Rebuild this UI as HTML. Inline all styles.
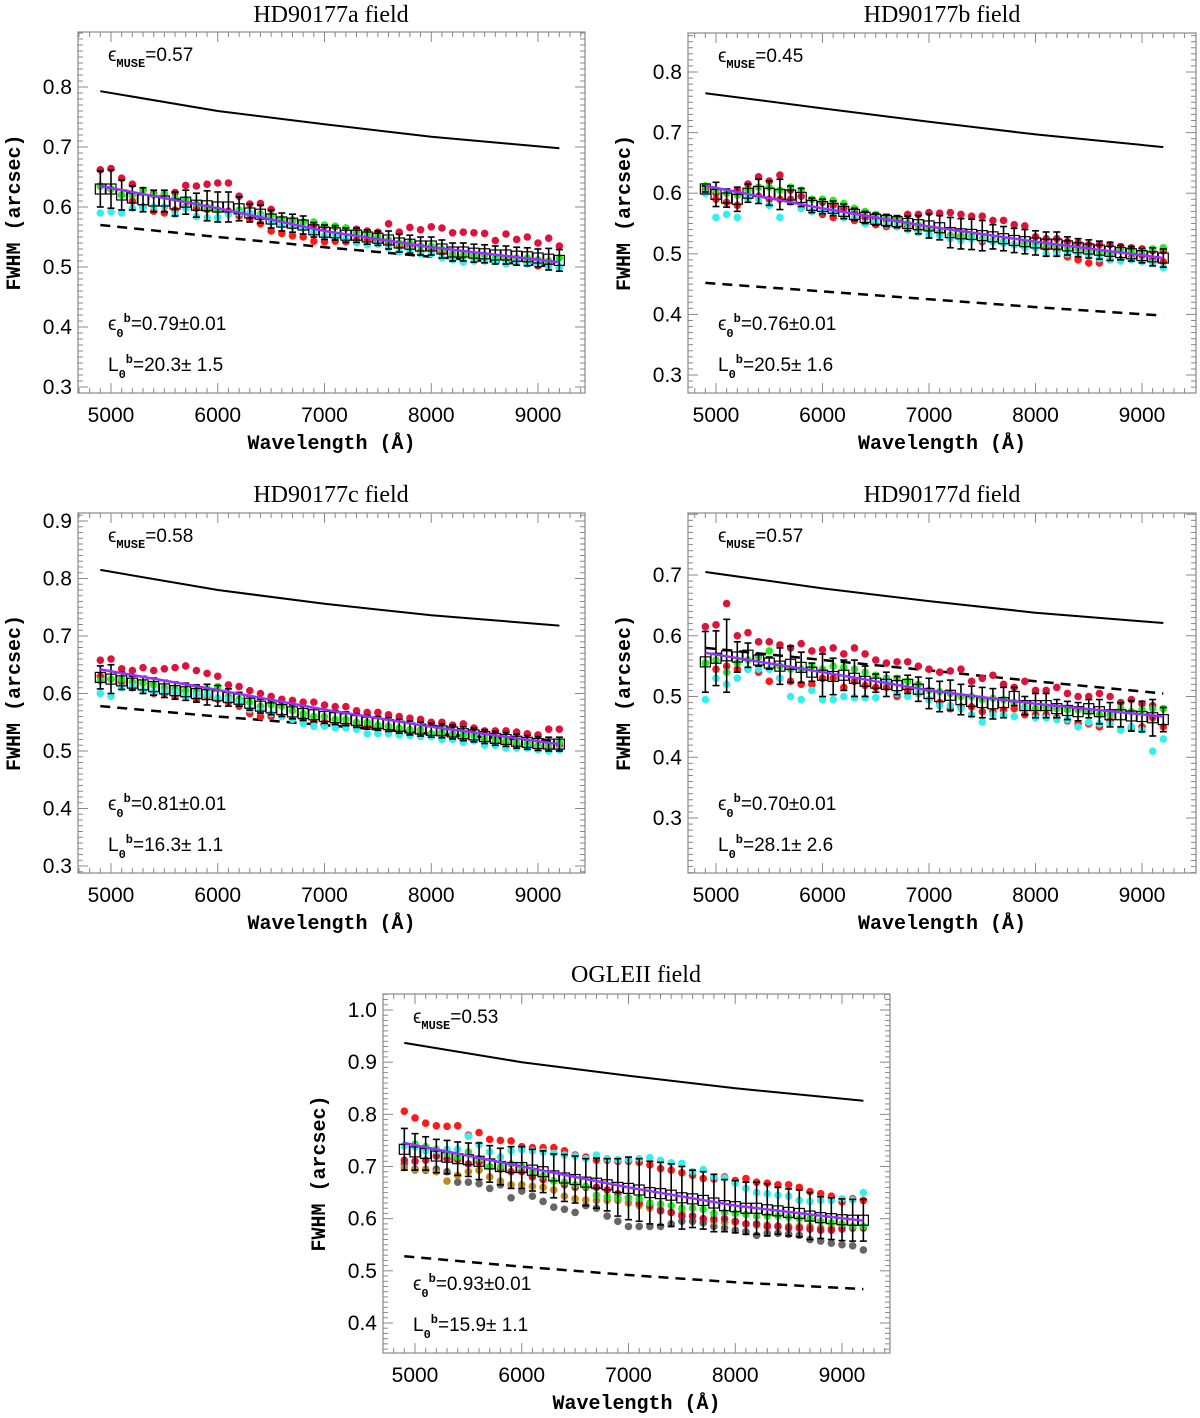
<!DOCTYPE html>
<html><head><meta charset="utf-8"><style>
body{margin:0;background:#fff}
svg{display:block}
.t{font-family:"Liberation Serif",serif;font-size:24px}
.tk{font-family:"Liberation Sans",sans-serif;font-size:21px}
.ax{font-family:"Liberation Mono",monospace;font-size:20px;font-weight:bold}
.an{font-family:"Liberation Sans",sans-serif;font-size:19px}
.sb{font-family:"Liberation Mono",monospace;font-size:12px;font-weight:bold}
</style></head><body>
<svg id="fig" width="1200" height="1418" xmlns="http://www.w3.org/2000/svg"></svg>
<script>
// ---- data ----
const wavelengths=[4900,5000,5100,5200,5300,5400,5500,5600,5700,5800,5900,6000,6100,6200,6300,6400,6500,6600,6700,6800,6900,7000,7100,7200,7300,7400,7500,7600,7700,7800,7900,8000,8100,8200,8300,8400,8500,8600,8700,8800,8900,9000,9100,9200];
const curveWl=[4900,6000,7000,8000,9200];
const xTicks=[5000,6000,7000,8000,9000];
const panelTitles=["HD90177a field","HD90177b field","HD90177c field","HD90177d field","OGLEII field"];
const museSeeing=["0.57","0.45","0.58","0.57","0.53"];
const eps0=["0.79±0.01","0.76±0.01","0.81±0.01","0.70±0.01","0.93±0.01"];
const L0=["20.3± 1.5","20.5± 1.6","16.3± 1.1","28.1± 2.6","15.9± 1.1"];
const yTicksA=[0.3,0.4,0.5,0.6,0.7,0.8];
const yTicksB=[0.3,0.4,0.5,0.6,0.7,0.8];
const yTicksC=[0.3,0.4,0.5,0.6,0.7,0.8,0.9];
const yTicksD=[0.3,0.4,0.5,0.6,0.7];
const yTicksE=[0.4,0.5,0.6,0.7,0.8,0.9,1.0];

const meanA=[.630,.630,.620,.615,.612,.610,.610,.605,.608,.603,.602,.600,.600,.597,.590,.588,.580,.575,.573,.570,.562,.558,.557,.553,.553,.550,.548,.545,.540,.538,.535,.535,.530,.525,.525,.523,.522,.520,.520,.518,.517,.515,.513,.511];
const errA=[.03,.032,.025,.02,.02,.018,.018,.02,.02,.02,.025,.025,.025,.02,.015,.015,.015,.015,.015,.015,.012,.012,.012,.012,.012,.012,.012,.015,.015,.015,.015,.015,.015,.015,.015,.015,.015,.015,.015,.015,.015,.015,.018,.018];
const crimsonA=[.662,.664,.648,.638,.628,.622,.622,.624,.636,.635,.638,.640,.640,.618,.605,.606,.596,.580,.578,.575,.570,.568,.567,.565,.563,.560,.558,.572,.558,.566,.562,.567,.565,.557,.558,.557,.556,.544,.555,.546,.550,.540,.548,.535];
const redA=[.635,.630,.620,.610,.600,.593,.590,.595,.600,.598,.596,.595,.593,.585,.580,.572,.560,.556,.552,.550,.543,.542,.543,.542,.545,.545,.543,.540,.535,.535,.525,.530,.525,.520,.520,.518,.520,.510,.512,.510,.510,.502,.505,.500];
const greenA=[.635,.630,.620,.620,.628,.620,.622,.615,.612,.605,.600,.595,.590,.595,.590,.588,.585,.580,.578,.575,.575,.570,.568,.565,.558,.555,.550,.545,.540,.540,.535,.535,.530,.522,.520,.520,.520,.515,.515,.515,.515,.512,.510,.515];
const cyanA=[.590,.592,.590,.598,.598,.600,.600,.588,.598,.584,.582,.582,.588,.590,.590,.585,.575,.570,.568,.565,.558,.552,.552,.548,.540,.537,.538,.532,.525,.528,.522,.522,.515,.512,.508,.510,.510,.510,.505,.508,.505,.505,.500,.500];
const fitA=[.635,.598,.560,.533,.508];
const solidA=[.793,.760,.738,.717,.698];
const dashA=[.570,.550,.533,.517,.500];

const meanB=[.607,.598,.592,.590,.600,.603,.600,.598,.597,.593,.580,.578,.575,.570,.565,.560,.557,.555,.553,.550,.548,.546,.543,.535,.533,.532,.530,.528,.525,.522,.520,.518,.516,.516,.513,.510,.508,.506,.504,.502,.500,.497,.495,.493];
const errB=[.005,.02,.015,.02,.015,.02,.02,.025,.015,.015,.012,.012,.012,.012,.01,.01,.01,.01,.01,.012,.015,.02,.02,.025,.025,.025,.025,.02,.02,.02,.02,.02,.02,.02,.015,.015,.015,.015,.015,.012,.012,.012,.015,.015];
const crimsonB=[.610,.600,.600,.605,.615,.627,.620,.630,.605,.595,.590,.585,.580,.575,.568,.560,.558,.556,.558,.565,.565,.568,.567,.568,.565,.562,.562,.555,.555,.548,.546,.528,.525,.525,.520,.518,.515,.515,.515,.512,.510,.508,.505,.505];
const redB=[.605,.590,.585,.580,.592,.595,.590,.590,.590,.575,.570,.565,.560,.560,.555,.550,.548,.545,.545,.545,.538,.540,.535,.530,.528,.525,.520,.520,.518,.515,.512,.510,.510,.505,.495,.490,.485,.485,.490,.490,.493,.497,.490,.487];
const greenB=[.612,.605,.600,.597,.605,.610,.610,.605,.610,.605,.590,.590,.588,.583,.575,.570,.565,.560,.555,.550,.547,.540,.535,.530,.530,.528,.525,.522,.520,.515,.518,.517,.515,.513,.510,.507,.505,.503,.500,.505,.503,.505,.508,.510];
const cyanB=[.600,.560,.565,.560,.592,.590,.580,.560,.585,.575,.570,.570,.570,.560,.560,.550,.552,.548,.545,.540,.535,.532,.530,.525,.522,.525,.523,.520,.518,.515,.510,.510,.500,.500,.500,.500,.497,.492,.490,.488,.490,.487,.485,.477];
const fitB=[.612,.575,.545,.520,.493];
const solidB=[.765,.740,.718,.697,.676];
const dashB=[.452,.438,.425,.412,.398];

const meanC=[.628,.625,.622,.618,.615,.612,.608,.605,.603,.600,.598,.596,.593,.590,.583,.578,.575,.572,.568,.565,.563,.560,.558,.556,.553,.550,.548,.546,.543,.540,.538,.536,.535,.533,.530,.528,.525,.522,.520,.517,.515,.513,.512,.512];
const errC=[.02,.025,.015,.012,.015,.015,.015,.015,.015,.015,.018,.018,.015,.012,.012,.012,.012,.012,.012,.012,.012,.012,.012,.012,.012,.012,.012,.012,.012,.012,.012,.012,.012,.012,.012,.012,.012,.012,.012,.012,.012,.012,.012,.012];
const crimsonC=[.658,.660,.643,.640,.645,.640,.643,.645,.648,.640,.635,.630,.615,.612,.605,.600,.595,.590,.588,.585,.585,.580,.577,.577,.570,.567,.567,.563,.560,.557,.555,.550,.550,.545,.547,.540,.535,.535,.535,.533,.530,.528,.538,.538];
const redC=[.630,.625,.620,.610,.605,.600,.600,.595,.595,.590,.595,.590,.585,.578,.565,.560,.560,.560,.555,.555,.550,.550,.548,.545,.545,.543,.540,.535,.535,.532,.530,.530,.530,.525,.520,.518,.520,.515,.515,.512,.510,.508,.505,.510];
const greenC=[.622,.625,.625,.620,.618,.615,.610,.608,.605,.605,.608,.612,.595,.590,.585,.578,.580,.578,.570,.565,.560,.560,.555,.555,.550,.550,.545,.543,.540,.537,.537,.530,.533,.530,.528,.526,.522,.520,.518,.515,.513,.510,.510,.515];
const cyanC=[.600,.595,.610,.612,.605,.603,.603,.602,.595,.598,.598,.592,.590,.585,.572,.570,.565,.560,.555,.548,.543,.543,.540,.540,.538,.530,.530,.530,.528,.527,.525,.525,.520,.520,.515,.518,.510,.510,.505,.505,.505,.502,.500,.502];
const fitC=[.642,.606,.572,.542,.512];
const solidC=[.815,.780,.756,.736,.718];
const dashC=[.578,.560,.545,.530,.516];

const meanD=[.557,.563,.567,.565,.568,.560,.555,.550,.553,.548,.540,.535,.533,.535,.530,.525,.522,.520,.518,.520,.512,.505,.500,.502,.495,.492,.490,.488,.490,.500,.485,.485,.485,.480,.477,.475,.480,.475,.470,.470,.468,.467,.465,.462];
const errD=[.05,.045,.06,.025,.02,.01,.01,.03,.03,.025,.015,.035,.03,.025,.03,.025,.015,.02,.015,.015,.02,.025,.025,.025,.025,.025,.025,.025,.025,.015,.015,.02,.02,.015,.015,.015,.015,.02,.02,.02,.025,.025,.03,.02];
const crimsonD=[.615,.618,.653,.600,.605,.590,.590,.585,.580,.587,.575,.577,.580,.570,.580,.570,.560,.555,.557,.557,.550,.545,.540,.542,.545,.525,.530,.535,.520,.515,.525,.510,.510,.515,.505,.500,.500,.505,.500,.490,.495,.488,.485,.480];
const redD=[.555,.545,.550,.545,.545,.540,.525,.530,.525,.520,.520,.530,.530,.515,.525,.518,.515,.515,.500,.510,.505,.495,.490,.480,.483,.483,.475,.475,.478,.480,.470,.470,.470,.465,.460,.455,.455,.450,.460,.445,.448,.450,.465,.450];
const greenD=[.555,.560,.540,.555,.560,.565,.575,.550,.545,.545,.550,.545,.550,.548,.545,.540,.535,.530,.530,.525,.520,.510,.508,.505,.500,.500,.495,.497,.495,.490,.482,.480,.482,.480,.478,.478,.475,.470,.470,.480,.475,.478,.480,.480];
const cyanD=[.495,.530,.520,.530,.545,.545,.545,.530,.500,.495,.510,.495,.495,.500,.498,.498,.498,.525,.505,.500,.505,.495,.485,.485,.480,.470,.458,.470,.470,.467,.480,.465,.465,.462,.462,.450,.458,.455,.455,.445,.450,.445,.410,.430];
const fitD=[.572,.540,.510,.488,.467];
const solidD=[.705,.678,.657,.638,.621];
const dashD=[.580,.560,.543,.525,.505];

const meanE=[.733,.728,.725,.720,.718,.715,.713,.710,.705,.700,.698,.698,.693,.690,.682,.678,.675,.670,.668,.665,.660,.658,.655,.650,.648,.645,.640,.638,.635,.630,.625,.623,.620,.620,.617,.615,.612,.610,.605,.602,.600,.598,.597,.597];
const errE=[.04,.035,.032,.032,.032,.032,.032,.035,.035,.035,.04,.04,.04,.04,.042,.045,.045,.045,.048,.05,.055,.06,.06,.06,.06,.06,.06,.055,.055,.055,.05,.05,.05,.05,.05,.045,.045,.045,.045,.04,.04,.04,.04,.04];
const redE=[.806,.793,.783,.778,.777,.778,.760,.765,.752,.750,.749,.738,.736,.736,.736,.730,.722,.718,.712,.712,.710,.710,.708,.703,.696,.693,.688,.683,.677,.676,.680,.673,.677,.670,.668,.665,.665,.660,.652,.648,.643,.632,.638,.635];
const cyanE=[.740,.737,.730,.730,.733,.733,.758,.742,.728,.718,.730,.732,.730,.728,.725,.722,.720,.715,.722,.715,.713,.713,.715,.717,.712,.707,.706,.690,.694,.680,.678,.668,.658,.650,.648,.645,.643,.635,.633,.635,.635,.638,.636,.650];
const greenE=[.740,.743,.738,.733,.725,.718,.728,.715,.700,.700,.705,.700,.690,.682,.672,.670,.665,.662,.645,.642,.640,.640,.638,.630,.628,.625,.620,.620,.618,.610,.612,.610,.608,.605,.605,.605,.603,.600,.600,.595,.592,.590,.585,.585];
const crimsonE=[.712,.710,.712,.720,.715,.713,.705,.708,.700,.695,.690,.690,.680,.675,.672,.665,.660,.660,.660,.655,.648,.640,.630,.625,.615,.612,.605,.605,.600,.600,.600,.595,.590,.590,.585,.585,.582,.582,.580,.578,.578,.580,.582,.582];
const orangeE=[.698,.693,.695,.690,.672,.683,.690,.693,.680,.672,.665,.665,.662,.660,.655,.643,.638,.636,.635,.635,.635,.630,.625,.620,.618,.612,.610,.605,.600,.595,.593,.593,.590,.588,.588,.586,.585,.585,.585,.582,.582,.583,.583,.583];
const grayE=[.705,.695,.693,.695,.690,.670,.670,.667,.658,.665,.640,.653,.643,.633,.622,.618,.612,.625,.620,.605,.595,.585,.585,.585,.585,.590,.595,.595,.592,.585,.582,.578,.575,.568,.572,.572,.570,.568,.560,.557,.553,.550,.548,.540];
const fitE=[.745,.700,.660,.625,.596];
const solidE=[.937,.900,.874,.850,.826];
const dashE=[.528,.508,.492,.478,.465];

// ---- layout (not data) ----
const panels=[
 {key:'a',box:[78,32,585,393],xr:[5000,111,9000,538],yr:[0.8,87,0.3,387],yt:yTicksA,ttl:[331,22],
  mean:meanA,err:errA,dots:[[crimsonA,'#dc143c'],[redA,'#ff1a1a'],[greenA,'#22ee22'],[cyanA,'#33f0f0']],fit:fitA,solid:solidA,dash:dashA},
 {key:'b',box:[688,33,1196,393],xr:[5000,716,9000,1142],yr:[0.8,72,0.3,375],yt:yTicksB,ttl:[942,22],
  mean:meanB,err:errB,dots:[[crimsonB,'#dc143c'],[redB,'#ff1a1a'],[greenB,'#22ee22'],[cyanB,'#33f0f0']],fit:fitB,solid:solidB,dash:dashB},
 {key:'c',box:[78,513,585,873],xr:[5000,111,9000,538],yr:[0.9,521,0.3,866],yt:yTicksC,ttl:[331,502],
  mean:meanC,err:errC,dots:[[crimsonC,'#dc143c'],[redC,'#ff1a1a'],[greenC,'#22ee22'],[cyanC,'#33f0f0']],fit:fitC,solid:solidC,dash:dashC},
 {key:'d',box:[688,513,1196,873],xr:[5000,716,9000,1142],yr:[0.7,575,0.3,818],yt:yTicksD,ttl:[942,502],
  mean:meanD,err:errD,dots:[[crimsonD,'#dc143c'],[redD,'#ff1a1a'],[greenD,'#22ee22'],[cyanD,'#33f0f0']],fit:fitD,solid:solidD,dash:dashD},
 {key:'e',box:[383,994,890,1353],xr:[5000,415,9000,842],yr:[1.0,1010,0.4,1323],yt:yTicksE,ttl:[636,982],
  mean:meanE,err:errE,dots:[[grayE,'#666666'],[orangeE,'#c08a1e'],[crimsonE,'#dc143c'],[greenE,'#22ee22'],[redE,'#ff1a1a'],[cyanE,'#33f0f0']],fit:fitE,solid:solidE,dash:dashE}
];
const NS='http://www.w3.org/2000/svg';
const fig=document.getElementById('fig');
function mk(tag,attrs,parent,txt){const e=document.createElementNS(NS,tag);for(const k in attrs)e.setAttribute(k,attrs[k]);if(txt!==undefined)e.textContent=txt;parent.appendChild(e);return e;}

panels.forEach((p,pi)=>{
 const g=mk('g',{},fig);
 
 
 const [bx0,by0,bx1,by1]=p.box;
 const X=w=>p.xr[1]+(w-p.xr[0])*(p.xr[3]-p.xr[1])/(p.xr[2]-p.xr[0]);
 const Y=v=>p.yr[1]+(v-p.yr[0])*(p.yr[3]-p.yr[1])/(p.yr[2]-p.yr[0]);
 const vMin=p.yr[0]+(by1-p.yr[1])*(p.yr[2]-p.yr[0])/(p.yr[3]-p.yr[1]);
 const vMax=p.yr[0]+(by0-p.yr[1])*(p.yr[2]-p.yr[0])/(p.yr[3]-p.yr[1]);
 const t=mk('text',{x:p.ttl[0],y:p.ttl[1],'text-anchor':'middle',class:'t'},g,panelTitles[pi]);
 
 
 const tg=mk('g',{stroke:'#888','stroke-width':1},g);
 
 
 for(let w=4700;w<=9400;w+=100){const x=X(w);if(x<=bx0||x>=bx1)continue;const L=(w%1000===0)?10:5;
  mk('line',{x1:x,y1:by1,x2:x,y2:by1-L},tg);mk('line',{x1:x,y1:by0,x2:x,y2:by0+L},tg);}
 for(let k=Math.ceil(vMin*100);k<=Math.floor(vMax*100);k++){const y=Y(k/100);const L=(k%10===0)?10:5;
  mk('line',{x1:bx0,y1:y,x2:bx0+L,y2:y},tg);mk('line',{x1:bx1,y1:y,x2:bx1-L,y2:y},tg);}
 const box=mk('rect',{x:bx0,y:by0,width:bx1-bx0,height:by1-by0,fill:'none',stroke:'#888','stroke-width':1.2},g);
 
 
 xTicks.forEach(w=>{const e=mk('text',{x:X(w),y:by1+29,'text-anchor':'middle',class:'tk'},g,String(w));
  
  });
 p.yt.forEach(v=>{const e=mk('text',{x:bx0-6,y:Y(v)+7,'text-anchor':'end',class:'tk'},g,v.toFixed(1));
  
  });
 const xt=mk('text',{x:(bx0+bx1)/2,y:by1+56,'text-anchor':'middle',class:'ax'},g,'Wavelength (Å)');
 
 
 const yc=(by0+by1)/2;
 const yt=mk('text',{x:bx0-58,y:yc,'text-anchor':'middle',class:'ax',transform:`rotate(-90 ${bx0-58} ${yc})`},g,'FWHM (arcsec)');
 
 
 const path=arr=>curveWl.map((w,i)=>(i?'L':'M')+X(w).toFixed(1)+','+Y(arr[i]).toFixed(1)).join(' ');
 const sol=mk('path',{d:path(p.solid),fill:'none',stroke:'#000','stroke-width':2},g);
 
 
 const das=mk('path',{d:path(p.dash),fill:'none',stroke:'#000','stroke-width':2.5,'stroke-dasharray':'10,7'},g);
 
 
 p.dots.forEach(([arr,col])=>{const dg=mk('g',{fill:col},g);
  
  
  arr.forEach((v,i)=>{const c=mk('circle',{cx:X(wavelengths[i]),cy:Y(v),r:3.8},dg);
   
   });});
 const eg=mk('g',{stroke:'#000','stroke-width':1.6},g);
 
 
 p.mean.forEach((v,i)=>{const x=X(wavelengths[i]);const y1=Y(v+p.err[i]),y2=Y(v-p.err[i]);
  mk('line',{x1:x,y1:y1,x2:x,y2:y2},eg);mk('line',{x1:x-3.5,y1:y1,x2:x+3.5,y2:y1},eg);mk('line',{x1:x-3.5,y1:y2,x2:x+3.5,y2:y2},eg);
  const s=mk('rect',{x:x-5,y:Y(v)-5,width:10,height:10,fill:'none',stroke:'#000','stroke-width':1.2},eg);
  
  });
 const ft=mk('path',{d:path(p.fit),fill:'none',stroke:'#9b30ff','stroke-width':2.5},g);
 
 
 const ax=bx0+30;
 const a1=mk('text',{x:ax,y:by0+29,class:'an'},g);
 
 
 mk('tspan',{},a1,'ϵ');mk('tspan',{class:'sb',dy:6},a1,'MUSE');mk('tspan',{dy:-6},a1,'='+museSeeing[pi]);
 const a2=mk('text',{x:ax,y:by1-63,class:'an'},g);
 
 
 mk('tspan',{},a2,'ϵ');mk('tspan',{class:'sb',dy:7},a2,'0');mk('tspan',{class:'sb',dy:-15},a2,'b');mk('tspan',{dy:8},a2,'='+eps0[pi]);
 const a3=mk('text',{x:ax,y:by1-22,class:'an'},g);
 
 
 mk('tspan',{},a3,'L');mk('tspan',{class:'sb',dy:7},a3,'0');mk('tspan',{class:'sb',dy:-15},a3,'b');mk('tspan',{dy:8},a3,'='+L0[pi]);
});
</script>
</body></html>
